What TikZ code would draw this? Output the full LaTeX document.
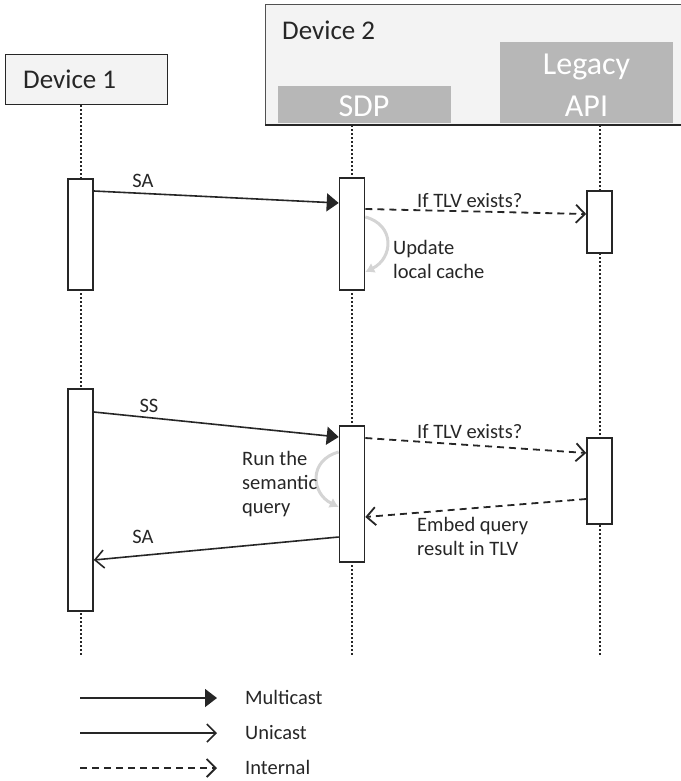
\documentclass[tikz,border=0pt]{standalone}
\usepackage{fontspec}
\setmainfont{Carlito}
\usetikzlibrary{arrows.meta}
\definecolor{txt}{HTML}{262626}
\definecolor{boxfill}{HTML}{F3F3F3}
\definecolor{compfill}{HTML}{B7B7B7}
\definecolor{curvegray}{HTML}{D4D4D4}
\tikzset{
  actorbox/.style={draw=txt, line width=1.2pt, fill=boxfill, inner sep=0pt},
  compbox/.style={fill=compfill, inner sep=0pt},
  bigtxt/.style={font=\fontsize{27}{30}\selectfont, text=txt, inner sep=0pt},
  comptxt/.style={font=\fontsize{32}{42}\selectfont, text=white, inner sep=0pt, align=center},
  bodytxt/.style={font=\fontsize{20.5}{24}\selectfont, text=txt, inner sep=0pt, align=left},
  actbar/.style={draw=txt, line width=1.6pt, fill=white, minimum width=25pt, inner sep=0pt},
  lifeline/.style={draw=txt, line width=2pt, dash pattern=on 2pt off 2pt},
  multicast/.style={draw=txt, line width=1.6pt, -{Triangle[length=12pt,width=18pt]}},
  unicast/.style={draw=txt, line width=1.6pt, -{Straight Barb[length=9pt,width=18pt]}},
  internal/.style={draw=txt, line width=1.8pt, dash pattern=on 7pt off 5pt, -{Straight Barb[length=9pt,width=18pt]}},
  selfcall/.style={draw=curvegray, line width=3pt, -{Latex[length=9pt,width=11pt]}}
}
\begin{document}
\begin{tikzpicture}[x=1pt,y=-1pt]
\useasboundingbox (0,0) rectangle (680,781);

% Actor headers
\node[actorbox, minimum width=162pt, minimum height=50pt, anchor=north west] (dev1) at (5,54) {};
\node[bigtxt, anchor=base west] (dev1lbl) at (23,89) {Device 1};

\node[draw=txt!80, line width=1.2pt, fill=boxfill, minimum width=430pt, minimum height=120pt, anchor=north west, inner sep=0pt] (dev2) at (265,4) {};
\draw[txt, line width=1.8pt] (dev2.south west) -- (dev2.south east);
\node[bigtxt, anchor=base west] (dev2lbl) at (282,40) {Device 2};

\node[compbox, minimum width=173pt, minimum height=37pt, anchor=south west] (sdp) at (278,123.5) {};
\node[comptxt, anchor=base] (sdplbl) at (364,117) {SDP};
\node[compbox, minimum width=173pt, minimum height=81.5pt, anchor=south west] (leg) at (500,123.5) {};
\node[comptxt, anchor=base] (leglbl) at (586.5,117) {Legacy\\API};

% Lifelines
\coordinate (e1) at (80.5,656);
\coordinate (e2) at (352,656);
\coordinate (e3) at (599.5,656);
\draw[lifeline] (dev1.south -| e1) -- (e1);
\draw[lifeline] (dev2.south -| e2) -- (e2);
\draw[lifeline] (dev2.south -| e3) -- (e3);

% Activation bars
\node[actbar, minimum height=111pt, anchor=north] (d1a) at (80.5,178) {};
\node[actbar, minimum height=112pt, anchor=north] (s1) at (352,177) {};
\node[actbar, minimum height=62pt, anchor=north] (l1) at (599.5,190) {};
\node[actbar, minimum height=222pt, anchor=north] (d1b) at (80.5,388) {};
\node[actbar, minimum height=136pt, anchor=north] (s2) at (352,425) {};
\node[actbar, minimum height=86pt, anchor=north] (l2) at (599.5,437) {};

% Phase 1
\draw[multicast] ([yshift=-13pt]d1a.north east) -- ([yshift=-26pt]s1.north west);
\node[bodytxt, anchor=base] (sa1) at (143,187) {SA};
\draw[internal] ([yshift=-32pt]s1.north east) -- ([yshift=-24pt]l1.north west);
\node[bodytxt, anchor=base west] (tlv1) at (417,207) {If TLV exists?};
\draw[selfcall] ([yshift=-40pt]s1.north east) .. controls +(30,8) and +(28,-14) .. ([yshift=-95pt]s1.north east);
\node[bodytxt, anchor=base west] (upd) at (393,278) {Update\\local cache};

% Phase 2
\draw[multicast] ([yshift=-24pt]d1b.north east) -- ([yshift=-12pt]s2.north west);
\node[bodytxt, anchor=base] (ss) at (149,412) {SS};
\draw[internal] ([yshift=-13pt]s2.north east) -- ([yshift=-16pt]l2.north west);
\node[bodytxt, anchor=base west] (tlv2) at (417,438) {If TLV exists?};
\draw[selfcall] ([yshift=-27pt]s2.north west) .. controls +(-30,8) and +(-28,-14) .. ([yshift=-82pt]s2.north west);
\node[bodytxt, anchor=base west] (run) at (242,513) {Run the\\semantic\\query};
\draw[internal] ([yshift=-62pt]l2.north west) -- ([yshift=-92pt]s2.north east);
\node[bodytxt, anchor=base west] (emb) at (417,555) {Embed query\\result in TLV};
\draw[unicast] ([yshift=-112pt]s2.north west) -- ([yshift=-172pt]d1b.north east);
\node[bodytxt, anchor=base] (sa2) at (143,543) {SA};

% Legend
\coordinate (lm1) at (80,698);  \coordinate (lm2) at (217,698);
\coordinate (lu1) at (80,733);  \coordinate (lu2) at (217,733);
\coordinate (li1) at (80,768);  \coordinate (li2) at (217,768);
\draw[multicast] (lm1) -- (lm2);
\draw[unicast] (lu1) -- (lu2);
\draw[internal] (li1) -- (li2);
\node[bodytxt, anchor=base west] (lgm) at (245,704) {Multicast};
\node[bodytxt, anchor=base west] (lgu) at (245,739) {Unicast};
\node[bodytxt, anchor=base west] (lgi) at (245,774) {Internal};
\end{tikzpicture}
\end{document}
